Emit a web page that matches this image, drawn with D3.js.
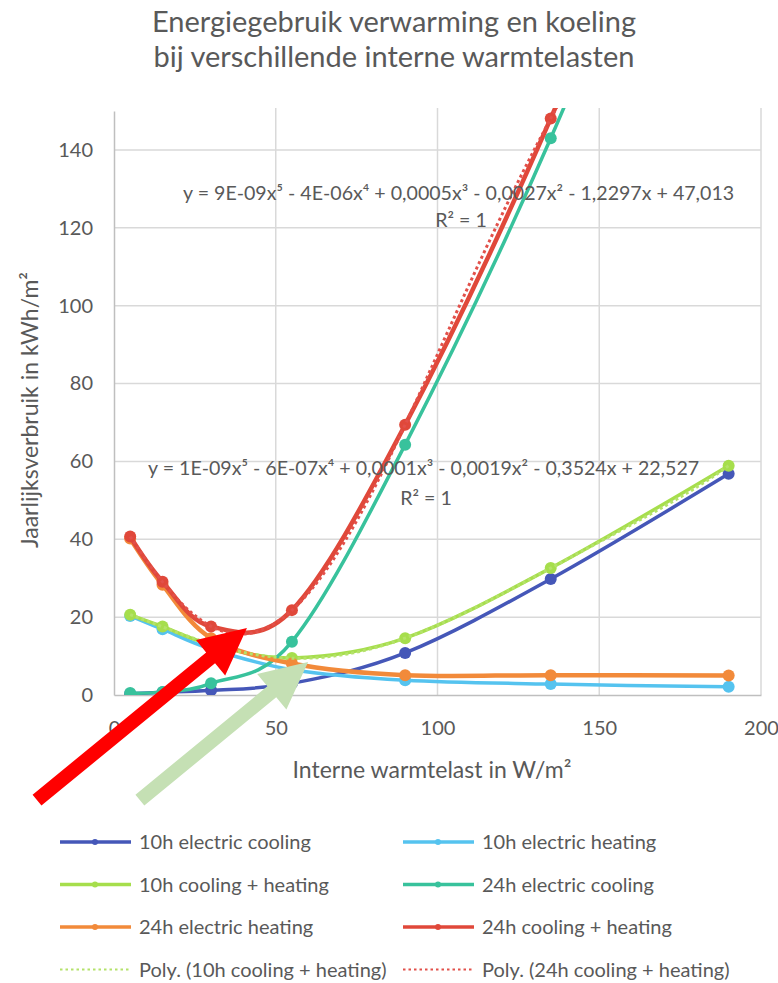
<!DOCTYPE html>
<html>
<head>
<meta charset="utf-8">
<script src="https://cdn.jsdelivr.net/npm/d3@7/dist/d3.min.js"></script>
<style>
  body { margin: 0; background: #fff; }
  svg { display: block; }
  text { font-family: Lato, "Open Sans", "DejaVu Sans", sans-serif; }
</style>
</head>
<body>
<svg id="chart" width="778" height="983"></svg>
<script>
// Internal heat load (W/m²) at which each variant was simulated
const heatLoad = [5, 15, 30, 55, 90, 135, 190];

// Annual energy use (kWh/m²) per variant
const cooling10h = [0.3, 0.7, 1.2, 3.0, 10.8, 29.8, 56.8];
const heating10h = [20.3, 16.9, 11.8, 6.5, 3.8, 2.8, 2.1];
const total10h   = [20.6, 17.6, 13.0, 9.5, 14.6, 32.6, 58.9];
const cooling24h = [0.5, 0.8, 3.0, 13.7, 64.3, 143.0, 255.0];
const heating24h = [40.2, 28.3, 14.6, 8.1, 5.1, 5.1, 5.0];
const total24h   = [40.7, 29.1, 17.6, 21.8, 69.4, 148.1, 260.0];

const xTickValues = [0, 50, 100, 150, 200];
const yTickValues = [0, 20, 40, 60, 80, 100, 120, 140];

const seriesNames = [
  "10h electric cooling", "10h electric heating", "10h cooling + heating",
  "24h electric cooling", "24h electric heating", "24h cooling + heating"
];
const seriesValues = [cooling10h, heating10h, total10h, cooling24h, heating24h, total24h];
const seriesColors = ["#4557b8", "#55c3ef", "#a6de4c", "#38c29c", "#f28a3a", "#e0483a"];

const trendNames = ["Poly. (10h cooling + heating)", "Poly. (24h cooling + heating)"];
const trendColors = ["#b4e26a", "#e2504a"];
const trendEquations = [
  "y = 1E-09x⁵ - 6E-07x⁴ + 0,0001x³ - 0,0019x² - 0,3524x + 22,527",
  "y = 9E-09x⁵ - 4E-06x⁴ + 0,0005x³ - 0,0027x² - 1,2297x + 47,013"
];

const titleLines = ["Energiegebruik verwarming en koeling", "bij verschillende interne warmtelasten"];
const xTitle = "Interne warmtelast in W/m²";
const yTitle = "Jaarlijksverbruik in kWh/m²";

const svg = d3.select("#chart");
const textGrey = "#595959";

const x = d3.scaleLinear().domain([0, 200]).range([114, 761]);
const y = d3.scaleLinear().domain([0, 150]).range([695, 111]);

// Title
svg.append("g").selectAll("text").data(titleLines).join("text")
  .attr("x", 394).attr("y", (d, i) => 32 + i * 35)
  .attr("text-anchor", "middle").attr("font-size", 29).attr("fill", textGrey)
  .text(d => d);

// Gridlines
const grid = svg.append("g");
grid.selectAll("line.h").data(yTickValues.slice(1)).join("line")
  .attr("x1", x(0)).attr("x2", x(200)).attr("y1", d => y(d)).attr("y2", d => y(d))
  .attr("stroke", "#d9d9d9").attr("stroke-width", 1.5);
grid.selectAll("line.v").data(xTickValues.slice(1)).join("line")
  .attr("y1", y(0)).attr("y2", y(150) - 3).attr("x1", d => x(d)).attr("x2", d => x(d))
  .attr("stroke", "#d9d9d9").attr("stroke-width", 1.5);

// Axes
const xAxis = svg.append("g").attr("transform", `translate(0,${y(0)})`)
  .call(d3.axisBottom(x).tickValues(xTickValues).tickSize(0).tickPadding(26));
const yAxis = svg.append("g").attr("transform", `translate(${x(0)},0)`)
  .call(d3.axisLeft(y).tickValues(yTickValues).tickSize(0).tickPadding(21));
[xAxis, yAxis].forEach(a => {
  a.select(".domain").attr("stroke", "#bfbfbf").attr("stroke-width", 1.5);
  a.selectAll("text").attr("font-size", 20).attr("fill", textGrey)
    .attr("font-family", "Lato, 'Open Sans', sans-serif");
});

// Axis titles
svg.append("text").attr("x", 432).attr("y", 778).attr("text-anchor", "middle")
  .attr("font-size", 23).attr("fill", textGrey).text(xTitle);
svg.append("text").attr("transform", "translate(38,410) rotate(-90)")
  .attr("text-anchor", "middle").attr("font-size", 23).attr("fill", textGrey).text(yTitle);

// Clip marks to the plot area
svg.append("clipPath").attr("id", "plot-clip").append("rect")
  .attr("x", x(0)).attr("y", y(150) - 3).attr("width", x(200) - x(0)).attr("height", y(0) - y(150) + 3);
const plot = svg.append("g").attr("clip-path", "url(#plot-clip)");

const line = d3.line().x(d => x(d[0])).y(d => y(d[1])).curve(d3.curveCatmullRom.alpha(0));

seriesValues.forEach((vals, i) => {
  const pts = heatLoad.map((h, j) => [h, vals[j]]);
  const g = plot.append("g");
  g.append("path").attr("d", line(pts)).attr("fill", "none")
    .attr("stroke", seriesColors[i]).attr("stroke-width", i >= 4 ? 4.5 : 3.5);
  g.selectAll("circle").data(pts).join("circle")
    .attr("cx", d => x(d[0])).attr("cy", d => y(d[1])).attr("r", 6)
    .attr("fill", seriesColors[i]);
});

// Least-squares polynomial trendline (degree 5), solved on x/100 for stability
function polyfit(xs, ys, deg) {
  const n = deg + 1;
  const A = Array.from({length: n}, () => new Array(n + 1).fill(0));
  xs.forEach((xv, k) => {
    const t = xv / 100;
    for (let r = 0; r < n; r++) {
      for (let c = 0; c < n; c++) A[r][c] += Math.pow(t, r + c);
      A[r][n] += ys[k] * Math.pow(t, r);
    }
  });
  for (let p = 0; p < n; p++) {
    let best = p;
    for (let r = p + 1; r < n; r++) if (Math.abs(A[r][p]) > Math.abs(A[best][p])) best = r;
    [A[p], A[best]] = [A[best], A[p]];
    for (let r = 0; r < n; r++) {
      if (r === p) continue;
      const f = A[r][p] / A[p][p];
      for (let c = p; c <= n; c++) A[r][c] -= f * A[p][c];
    }
  }
  const coef = A.map((row, i) => row[n] / row[i]);
  return xv => coef.reduce((s, c, i) => s + c * Math.pow(xv / 100, i), 0);
}

const trendSources = [total10h, total24h];
const trendLine = d3.line().x(d => x(d[0])).y(d => y(d[1]));
trendSources.forEach((vals, i) => {
  const f = polyfit(heatLoad, vals, 5);
  const pts = d3.range(heatLoad[0], heatLoad[heatLoad.length - 1] + 0.01, 0.5).map(h => [h, f(h)]);
  plot.append("path").attr("d", trendLine(pts)).attr("fill", "none")
    .attr("stroke", trendColors[i]).attr("stroke-width", 3)
    .attr("stroke-dasharray", "3,3");
});

// Trendline equations
const eqLabels = [
  {eq: trendEquations[0], ex: 148, ey: 475, rx: 426, ry: 505},
  {eq: trendEquations[1], ex: 183, ey: 200, rx: 461, ry: 227}
];
eqLabels.forEach(l => {
  svg.append("text").attr("x", l.ex).attr("y", l.ey).attr("font-size", 19.6)
    .attr("fill", textGrey).text(l.eq);
  svg.append("text").attr("x", l.rx).attr("y", l.ry).attr("font-size", 19.6)
    .attr("text-anchor", "middle").attr("fill", textGrey).text("R² = 1");
});

// Legend
const legendItems = [
  ...seriesNames.map((n, i) => ({name: n, color: seriesColors[i], dotted: false})),
  ...trendNames.map((n, i) => ({name: n, color: trendColors[i], dotted: true}))
];
const legend = svg.append("g");
legendItems.forEach((item, i) => {
  const col = i % 2, row = Math.floor(i / 2);
  const lx = col === 0 ? 60 : 403;
  const ly = 842 + row * 42.5;
  legend.append("line").attr("x1", lx).attr("x2", lx + 71).attr("y1", ly).attr("y2", ly)
    .attr("stroke", item.color).attr("stroke-width", item.dotted ? 2 : 3.5)
    .attr("stroke-dasharray", item.dotted ? "2.5,3" : null);
  if (!item.dotted) {
    legend.append("circle").attr("cx", lx + 35).attr("cy", ly).attr("r", 3).attr("fill", item.color);
  }
  legend.append("text").attr("x", lx + 79).attr("y", ly + 7).attr("font-size", 20)
    .attr("fill", "#595959").text(item.name);
});

// Annotation arrows pointing at the two optima
const arrows = [
  {from: [-23.8, -27], to: [41.1, 17.2], color: "#ff0000"},
  {from: [8.0, -27], to: [60.0, 8.5], color: "#c5e0b4"}
];
arrows.forEach(a => {
  const x0 = x(a.from[0]), y0 = y(a.from[1]), x1 = x(a.to[0]), y1 = y(a.to[1]);
  const len = Math.hypot(x1 - x0, y1 - y0);
  const ux = (x1 - x0) / len, uy = (y1 - y0) / len;
  const nx = -uy, ny = ux;
  const shaft = 7, head = 23, headLen = 47;
  const bx = x1 - ux * headLen, by = y1 - uy * headLen;
  const p = [
    [x0 + nx * shaft, y0 + ny * shaft],
    [bx + nx * shaft, by + ny * shaft],
    [bx + nx * head, by + ny * head],
    [x1, y1],
    [bx - nx * head, by - ny * head],
    [bx - nx * shaft, by - ny * shaft],
    [x0 - nx * shaft, y0 - ny * shaft]
  ];
  svg.append("polygon").attr("points", p.map(q => q.join(",")).join(" ")).attr("fill", a.color);
});
</script>
</body>
</html>
